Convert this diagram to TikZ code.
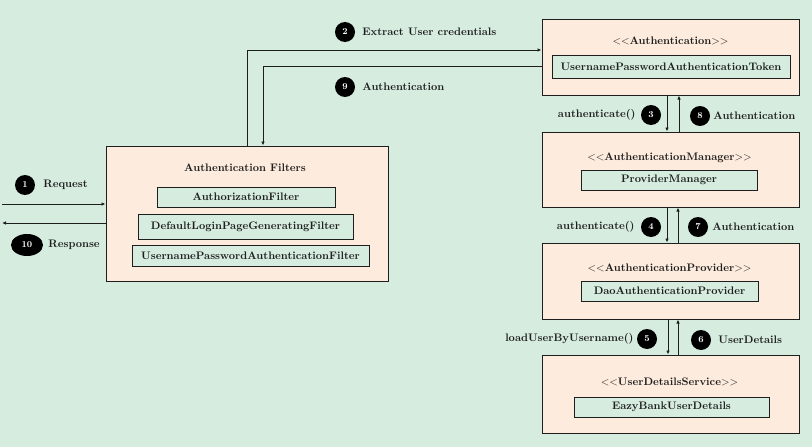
\documentclass[tikz,border=0pt]{standalone}
\usetikzlibrary{arrows.meta,positioning,shapes.geometric}
\definecolor{mint}{RGB}{213,236,223}
\definecolor{peach}{RGB}{253,235,221}
\definecolor{ink}{RGB}{30,30,30}
\begin{document}
\begin{tikzpicture}[x=1pt,y=-1pt,
    every node/.style={font=\bfseries\fontsize{10.9}{13}\selectfont, text=ink},
    layer/.style={draw=ink, line width=1pt, fill=peach, minimum width=257pt, minimum height=76pt},
    impl/.style={draw=ink, line width=1pt, fill=mint, inner sep=0pt, minimum height=21pt},
    badge/.style={circle, fill=black, inner sep=0pt, minimum size=20pt, text=white, font=\bfseries\fontsize{9}{10}\selectfont},
    lbl/.style={inner sep=0pt},
    flow/.style={draw=ink, line width=0.8pt, -{Latex[length=4pt,width=3.5pt]}}]
    \fill[mint] (0,0) rectangle (812,447);
    \useasboundingbox (0,0) rectangle (812,447);

    \node[layer, minimum width=282pt, minimum height=135pt] (filt) at (247,213.5) {};
    \node (filttitle) at (245,168) {Authentication Filters};
    \node[impl, minimum width=178pt, minimum height=20pt] (authz) at (246,197) {AuthorizationFilter};
    \node[impl, minimum width=215pt, minimum height=25pt] (login) at (245.5,226.5) {DefaultLoginPageGeneratingFilter};
    \node[impl, minimum width=237pt] (upfilt) at (250.5,255.5) {UsernamePasswordAuthenticationFilter};

    \node[layer] (auth) at (670.5,57) {};
    \node (authtitle) at (670.5,41) {$<<$Authentication$>>$};
    \node[impl, minimum width=238pt, minimum height=23pt] (token) at (671,66.5) {UsernamePasswordAuthenticationToken};

    \node[layer, minimum height=75pt] (mgr) at (670.5,169.5) {};
    \node (mgrtitle) at (669.5,158) {$<<$AuthenticationManager$>>$};
    \node[impl, minimum width=176pt, minimum height=20pt] (provmgr) at (669,180) {ProviderManager};

    \node[layer] (prov) at (670.5,281) {};
    \node (provtitle) at (669.5,268) {$<<$AuthenticationProvider$>>$};
    \node[impl, minimum width=177pt, minimum height=20pt] (dao) at (669.5,291) {DaoAuthenticationProvider};

    \node[layer, minimum height=78pt] (uds) at (670.5,394) {};
    \node (udstitle) at (669.5,382) {$<<$UserDetailsService$>>$};
    \node[impl, minimum width=195pt, minimum height=20pt] (eazy) at (671.5,407) {EazyBankUserDetails};

    \node[badge] (b1) at (25,185) {1};
    \node[lbl, right=8pt of b1] {Request};
    \node[badge, ellipse, minimum width=32pt, minimum height=22pt] (b10) at (27,245) {10};
    \node[lbl, right=5pt of b10] {Response};
    \node[badge] (b2) at (345,32) {2};
    \node[lbl, right=7pt of b2] {Extract User credentials};
    \node[badge] (b9) at (345,87) {9};
    \node[lbl, right=7pt of b9] {Authentication};
    \node[badge] (b3) at (651,115) {3};
    \node[lbl, left=5pt of b3] {authenticate()};
    \node[badge] (b8) at (700,116) {8};
    \node[lbl, right=3pt of b8] {Authentication};
    \node[badge] (b4) at (651,227) {4};
    \node[lbl, left=6pt of b4] {authenticate()};
    \node[badge] (b7) at (698,227) {7};
    \node[lbl, right=4pt of b7] {Authentication};
    \node[badge] (b5) at (647,339) {5};
    \node[lbl, left=3pt of b5] {loadUserByUsername()};
    \node[badge] (b6) at (701,340) {6};
    \node[lbl, right=7pt of b6] {UserDetails};

    \coordinate (client) at (2,204);
    \coordinate (browser) at (2,223);
    \draw[flow] (client) -- (client -| filt.west);
    \draw[flow] (browser -| filt.west) -- (browser);
    \draw[flow] (filt.north) |- ([yshift=7pt]auth.west);
    \draw[flow] ([yshift=-9pt]auth.west) -| ([xshift=16pt]filt.north);
    \draw[flow] ([xshift=-3.5pt]auth.south) -- ([xshift=-3.5pt]mgr.north);
    \draw[flow] ([xshift=8.5pt]mgr.north) -- ([xshift=8.5pt]auth.south);
    \draw[flow] ([xshift=-3.5pt]mgr.south) -- ([xshift=-3.5pt]prov.north);
    \draw[flow] ([xshift=7.5pt]prov.north) -- ([xshift=7.5pt]mgr.south);
    \draw[flow] ([xshift=-2.5pt]prov.south) -- ([xshift=-2.5pt]uds.north);
    \draw[flow] ([xshift=7.5pt]uds.north) -- ([xshift=7.5pt]prov.south);
\end{tikzpicture}
\end{document}
